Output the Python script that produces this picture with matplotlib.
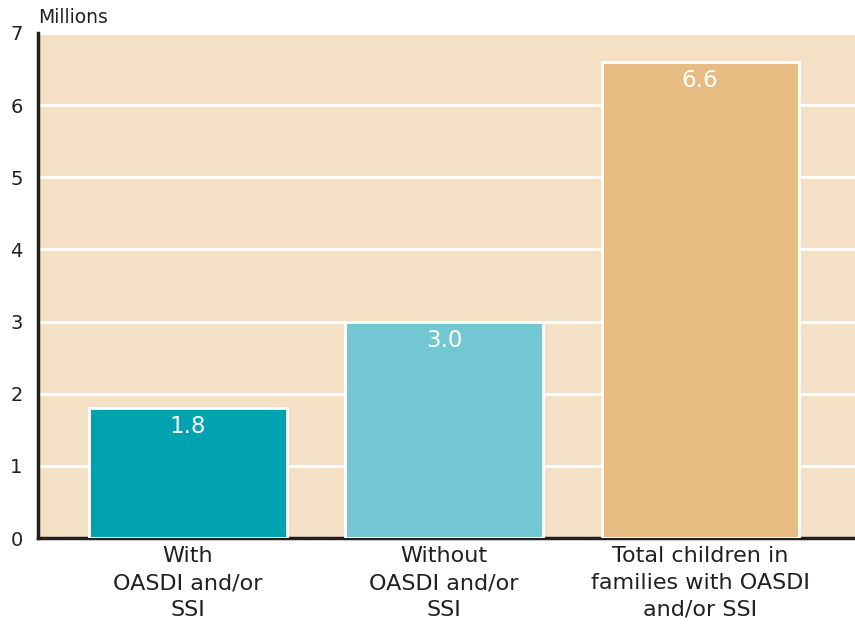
import matplotlib.pyplot as plt

categories = ["With\nOASDI and/or\nSSI",
              "Without\nOASDI and/or\nSSI",
              "Total children in\nfamilies with OASDI\nand/or SSI"]
values = [1.8, 3.0, 6.6]
labels = ["1.8", "3.0", "6.6"]
colors = ["#00A2B0", "#72C7D3", "#E7BC82"]
yticks = [0, 1, 2, 3, 4, 5, 6, 7]

plt.rcParams['font.family'] = ['DejaVu Sans']

fig = plt.figure(figsize=(8.55, 6.25), dpi=100)
ax = fig.add_axes([0.0444, 0.1392, 0.9556, 0.808])
ax.set_facecolor("#F4E0C5")

x = list(range(len(values)))
ax.bar(x, values, width=0.77, color=colors, edgecolor="white", linewidth=2, zorder=3)

for xi, v, lab in zip(x, values, labels):
    ax.annotate(lab, (xi, v), xytext=(0, -5), textcoords="offset points",
                ha="center", va="top", color="white", fontsize=16.5, zorder=4)

ax.set_xlim(-0.586, 2.605)
ax.set_ylim(0, 7)
ax.set_yticks(yticks)
ax.yaxis.grid(True, color="white", linewidth=2)
ax.set_axisbelow(True)
ax.tick_params(axis="y", length=0, labelsize=14, pad=11, labelcolor="#231F20")
ax.tick_params(axis="x", length=0, labelsize=16, pad=6, labelcolor="#231F20")
ax.set_xticks(x)
ax.set_xticklabels(categories, linespacing=1.42)

for s in ["top", "right"]:
    ax.spines[s].set_visible(False)
ax.spines["left"].set_linewidth(2.5)
ax.spines["bottom"].set_linewidth(2.5)
ax.spines["left"].set_color("#231F20")
ax.spines["bottom"].set_color("#231F20")

fig.text(0.045, 0.972, "Millions", fontsize=13.5, ha="left", va="center", color="#231F20")

fig.savefig("out.png", dpi=100)
